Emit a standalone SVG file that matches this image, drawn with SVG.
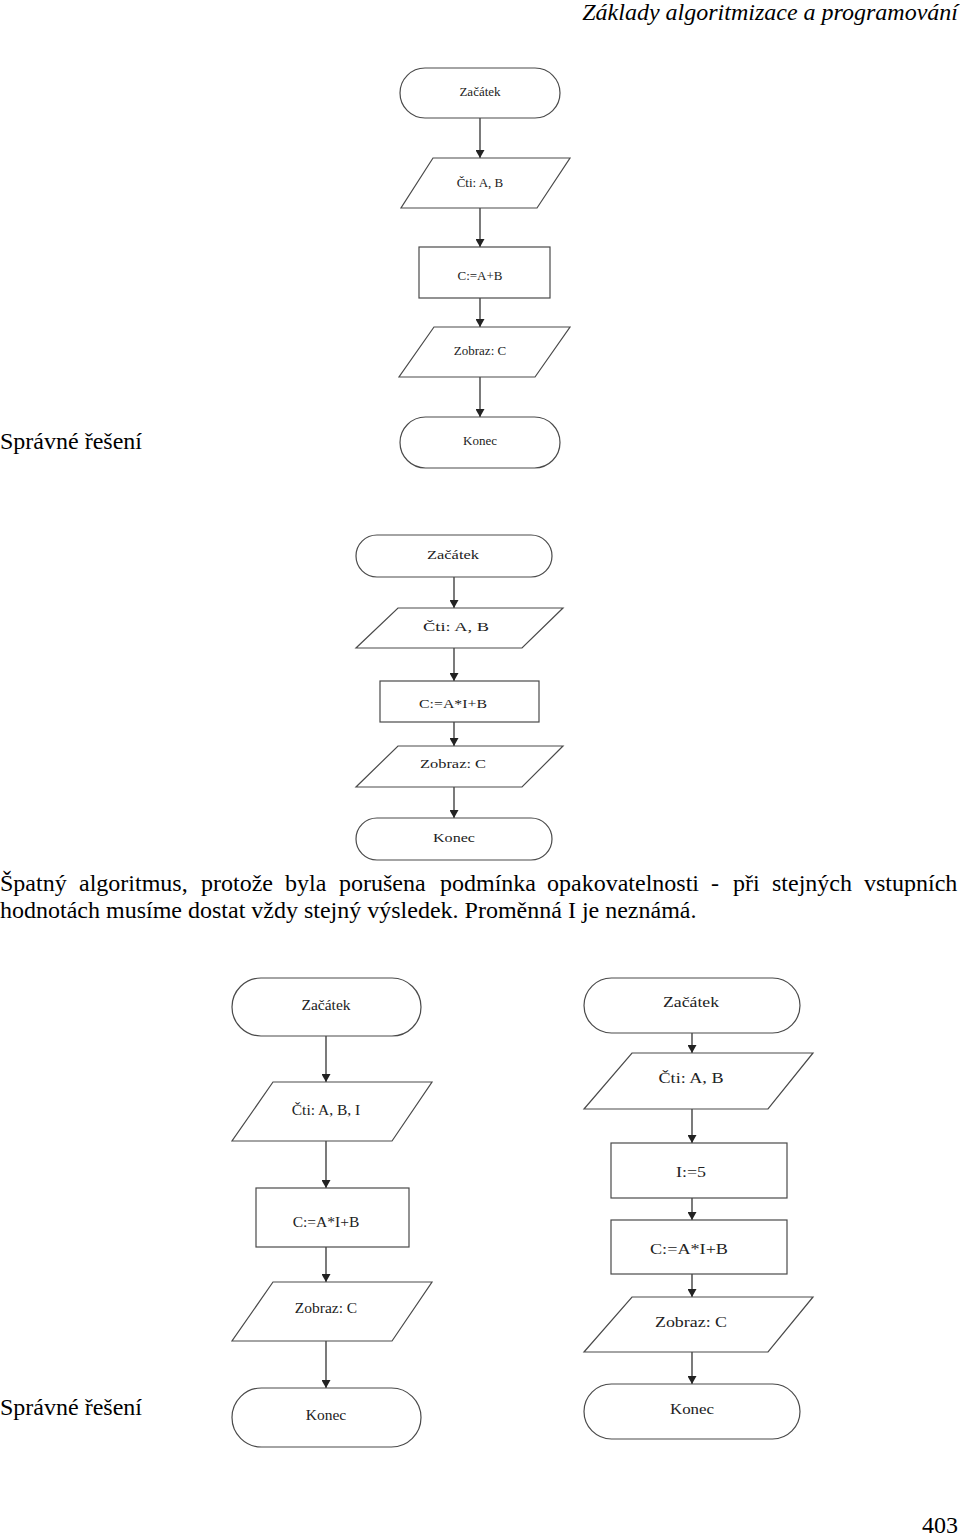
<svg xmlns="http://www.w3.org/2000/svg" width="960" height="1536" viewBox="0 0 960 1536">
<style>
.bg{fill:#fff}
.sh{fill:#fff;stroke:#4a4a4a;stroke-width:1.2}
.ln{stroke:#333;stroke-width:1.3;fill:none;marker-end:url(#ah)}
.t{font-family:"Liberation Serif","Times New Roman",serif;fill:#222;text-anchor:middle}
.t1{font-size:13px}
.t2{font-size:12.5px}
.t3{font-size:15.5px}
.t4{font-size:14px}
.p{font-family:"Liberation Serif","Times New Roman",serif;font-size:24px;fill:#000}
</style>
<defs>
<marker id="ah" markerUnits="userSpaceOnUse" markerWidth="8" markerHeight="9" refX="8" refY="4.5" orient="auto">
<path d="M0,0 L8,4.5 L0,9 z" fill="#222"/>
</marker>
</defs>
<rect class="bg" x="0" y="0" width="960" height="1536"/>
<text class="p" x="958" y="20" text-anchor="end" font-style="italic">Základy algoritmizace a programování</text>
<text class="p" x="0" y="449">Správné řešení</text>
<text class="p" y="891"><tspan x="0">Špatný</tspan><tspan x="79">algoritmus,</tspan><tspan x="201">protože</tspan><tspan x="285">byla</tspan><tspan x="339">porušena</tspan><tspan x="440">podmínka</tspan><tspan x="547">opakovatelnosti</tspan><tspan x="711">-</tspan><tspan x="733">při</tspan><tspan x="772">stejných</tspan><tspan x="864">vstupních</tspan></text>
<text class="p" x="0" y="918">hodnotách musíme dostat vždy stejný výsledek. Proměnná I je neznámá.</text>
<text class="p" x="0" y="1415">Správné řešení</text>
<text class="p" x="958" y="1533" text-anchor="end">403</text>

<g id="connectors">
<line class="ln" x1="480" y1="118" x2="480" y2="158"/>
<line class="ln" x1="480" y1="208" x2="480" y2="247"/>
<line class="ln" x1="480" y1="298" x2="480" y2="327"/>
<line class="ln" x1="480" y1="377" x2="480" y2="417"/>

<line class="ln" x1="454" y1="577" x2="454" y2="608"/>
<line class="ln" x1="454" y1="648" x2="454" y2="681"/>
<line class="ln" x1="454" y1="722" x2="454" y2="746"/>
<line class="ln" x1="454" y1="787" x2="454" y2="818"/>

<line class="ln" x1="326" y1="1036" x2="326" y2="1082"/>
<line class="ln" x1="326" y1="1141" x2="326" y2="1188"/>
<line class="ln" x1="326" y1="1247" x2="326" y2="1282"/>
<line class="ln" x1="326" y1="1341" x2="326" y2="1388"/>

<line class="ln" x1="692" y1="1033" x2="692" y2="1053"/>
<line class="ln" x1="692" y1="1109" x2="692" y2="1143"/>
<line class="ln" x1="692" y1="1198" x2="692" y2="1220"/>
<line class="ln" x1="692" y1="1274" x2="692" y2="1297"/>
<line class="ln" x1="692" y1="1352" x2="692" y2="1384"/>
</g>

<!-- Chart 1 -->
<g id="c1-start"><rect class="sh" x="400" y="68" width="160" height="50" rx="25"/><text class="t t1" x="480" y="96">Začátek</text></g>
<g id="c1-read"><polygon class="sh" points="433,158 570,158 537,208 401,208"/><text class="t t1" x="480" y="187">Čti: A, B</text></g>
<g id="c1-calc"><rect class="sh" x="419" y="247" width="131" height="51"/><text class="t t1" x="480" y="280">C:=A+B</text></g>
<g id="c1-show"><polygon class="sh" points="434,327 570,327 535,377 399,377"/><text class="t t1" x="480" y="355">Zobraz: C</text></g>
<g id="c1-end"><rect class="sh" x="400" y="417" width="160" height="51" rx="25.5"/><text class="t t1" x="480" y="445">Konec</text></g>

<!-- Chart 2 -->
<g id="c2-start"><rect class="sh" x="356" y="535" width="196" height="42" rx="21"/><text class="t t2" x="453" y="559" textLength="52" lengthAdjust="spacingAndGlyphs">Začátek</text></g>
<g id="c2-read"><polygon class="sh" points="398,608 563,608 522,648 356,648"/><text class="t t2" x="456" y="631" textLength="66" lengthAdjust="spacingAndGlyphs">Čti: A, B</text></g>
<g id="c2-calc"><rect class="sh" x="380" y="681" width="159" height="41"/><text class="t t2" x="453" y="708" textLength="68" lengthAdjust="spacingAndGlyphs">C:=A*I+B</text></g>
<g id="c2-show"><polygon class="sh" points="398,746 563,746 522,787 356,787"/><text class="t t2" x="453" y="768" textLength="66" lengthAdjust="spacingAndGlyphs">Zobraz: C</text></g>
<g id="c2-end"><rect class="sh" x="356" y="818" width="196" height="42" rx="21"/><text class="t t2" x="454" y="842" textLength="42" lengthAdjust="spacingAndGlyphs">Konec</text></g>

<!-- Chart 3 -->
<g id="c3-start"><rect class="sh" x="232" y="978" width="189" height="58" rx="29"/><text class="t t3" x="326" y="1010">Začátek</text></g>
<g id="c3-read"><polygon class="sh" points="273,1082 432,1082 392,1141 232,1141"/><text class="t t3" x="326" y="1115">Čti: A, B, I</text></g>
<g id="c3-calc"><rect class="sh" x="256" y="1188" width="153" height="59"/><text class="t t3" x="326" y="1227">C:=A*I+B</text></g>
<g id="c3-show"><polygon class="sh" points="273,1282 432,1282 392,1341 232,1341"/><text class="t t3" x="326" y="1313">Zobraz: C</text></g>
<g id="c3-end"><rect class="sh" x="232" y="1388" width="189" height="59" rx="29.5"/><text class="t t3" x="326" y="1420">Konec</text></g>

<!-- Chart 4 -->
<g id="c4-start"><rect class="sh" x="584" y="978" width="216" height="55" rx="27.5"/><text class="t t4" x="691" y="1007" textLength="56" lengthAdjust="spacingAndGlyphs">Začátek</text></g>
<g id="c4-read"><polygon class="sh" points="632,1053 813,1053 768,1109 584,1109"/><text class="t t4" x="691" y="1083" textLength="65" lengthAdjust="spacingAndGlyphs">Čti: A, B</text></g>
<g id="c4-init"><rect class="sh" x="611" y="1143" width="176" height="55"/><text class="t t4" x="691" y="1177" textLength="30" lengthAdjust="spacingAndGlyphs">I:=5</text></g>
<g id="c4-calc"><rect class="sh" x="611" y="1220" width="176" height="54"/><text class="t t4" x="689" y="1254" textLength="78" lengthAdjust="spacingAndGlyphs">C:=A*I+B</text></g>
<g id="c4-show"><polygon class="sh" points="632,1297 813,1297 768,1352 584,1352"/><text class="t t4" x="691" y="1327" textLength="72" lengthAdjust="spacingAndGlyphs">Zobraz: C</text></g>
<g id="c4-end"><rect class="sh" x="584" y="1384" width="216" height="55" rx="27.5"/><text class="t t4" x="692" y="1414" textLength="44" lengthAdjust="spacingAndGlyphs">Konec</text></g>
</svg>
